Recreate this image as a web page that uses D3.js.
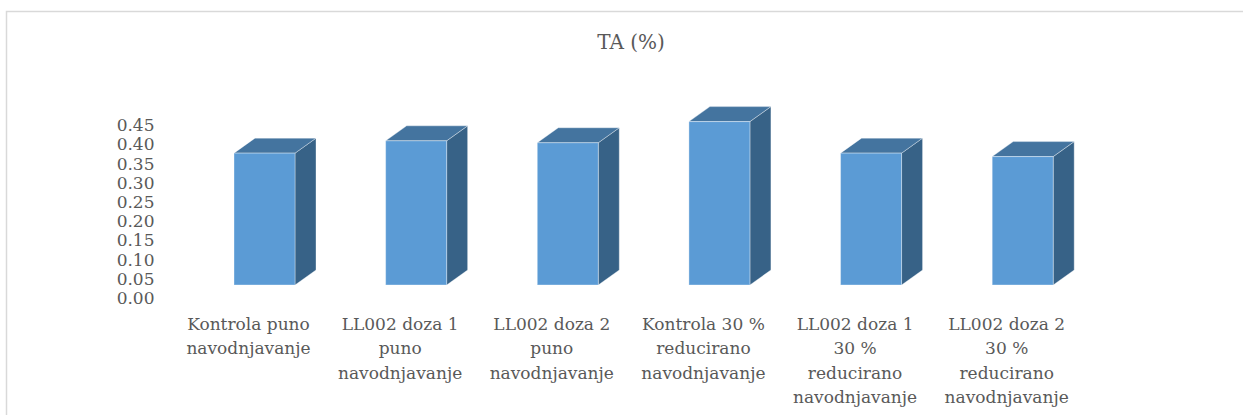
<!DOCTYPE html>
<html>
<head>
<meta charset="utf-8">
<script src="https://cdn.jsdelivr.net/npm/d3@7"></script>
<style>
  body { margin: 0; background: #fff; }
  text { font-family: "DejaVu Serif", serif; fill: #595959; }
</style>
</head>
<body>
<svg id="chart" width="1243" height="415"></svg>
<script>
const title = "TA (%)";
const categories = [
    ["Kontrola puno", "navodnjavanje"],
    ["LL002 doza 1", "puno", "navodnjavanje"],
    ["LL002 doza 2", "puno", "navodnjavanje"],
    ["Kontrola 30 %", "reducirano", "navodnjavanje"],
    ["LL002 doza 1", "30 %", "reducirano", "navodnjavanje"],
    ["LL002 doza 2", "30 %", "reducirano", "navodnjavanje"]
];
const values = [0.343, 0.375, 0.370, 0.425, 0.343, 0.334];
const ticks = [0, 0.05, 0.10, 0.15, 0.20, 0.25, 0.30, 0.35, 0.40, 0.45];

const svg = d3.select("#chart");

// chart frame (only top and left edges show in the picture)
svg.append("rect")
    .attr("x", 6.5).attr("y", 11.5)
    .attr("width", 1260).attr("height", 420)
    .attr("fill", "none")
    .attr("stroke", "#d9d9d9")
    .attr("stroke-width", 1.5);

svg.append("text")
    .attr("x", 631).attr("y", 49)
    .attr("text-anchor", "middle")
    .style("font-size", "20px")
    .text(title);

const ids = categories.map((c, i) => i);
const x = d3.scalePoint().domain(ids).range([264.5, 1022.7]);
const y = d3.scaleLinear().domain([0, 0.45]).range([298, 125]);

const barW = 61;
const depthX = 21, depthY = -15; // 3D offset
const floorShift = -13;          // front face sits above the label zero

// value axis labels
svg.append("g")
    .selectAll("text")
    .data(ticks)
    .enter().append("text")
    .attr("x", 154.5)
    .attr("y", d => y(d))
    .attr("dy", "0.36em")
    .attr("text-anchor", "end")
    .style("font-size", "17px")
    .text(d => d.toFixed(2));

// bars
const bars = svg.append("g").selectAll("g")
    .data(values)
    .enter().append("g");

bars.each(function (v, i) {
    const g = d3.select(this);
    const x0 = x(i) - barW / 2, x1 = x(i) + barW / 2;
    const yb = y(0) + floorShift, yt = y(v) + floorShift;
    // side
    g.append("path")
        .attr("d", `M${x1},${yt}L${x1 + depthX},${yt + depthY}L${x1 + depthX},${yb + depthY}L${x1},${yb}Z`)
        .attr("fill", "#376287")
        .attr("stroke", "#ffffff").attr("stroke-opacity", 0.35).attr("stroke-width", 1);
    // top
    g.append("path")
        .attr("d", `M${x0},${yt}L${x0 + depthX},${yt + depthY}L${x1 + depthX},${yt + depthY}L${x1},${yt}Z`)
        .attr("fill", "#44749f")
        .attr("stroke", "#ffffff").attr("stroke-opacity", 0.35).attr("stroke-width", 1);
    // front
    g.append("rect")
        .attr("x", x0).attr("y", yt)
        .attr("width", barW).attr("height", yb - yt)
        .attr("fill", "#5b9bd5")
        .attr("stroke", "#ffffff").attr("stroke-opacity", 0.35).attr("stroke-width", 1);
});

// category labels
const labels = svg.append("g").selectAll("text")
    .data(categories)
    .enter().append("text")
    .attr("x", (d, i) => x(i) - 16)
    .attr("y", 330)
    .attr("text-anchor", "middle")
    .style("font-size", "17px");

labels.selectAll("tspan")
    .data((d, i) => d.map(t => ({ t, i })))
    .enter().append("tspan")
    .attr("x", d => x(d.i) - 16)
    .attr("dy", (d, j) => j === 0 ? 0 : 24.3)
    .text(d => d.t);
</script>
</body>
</html>
